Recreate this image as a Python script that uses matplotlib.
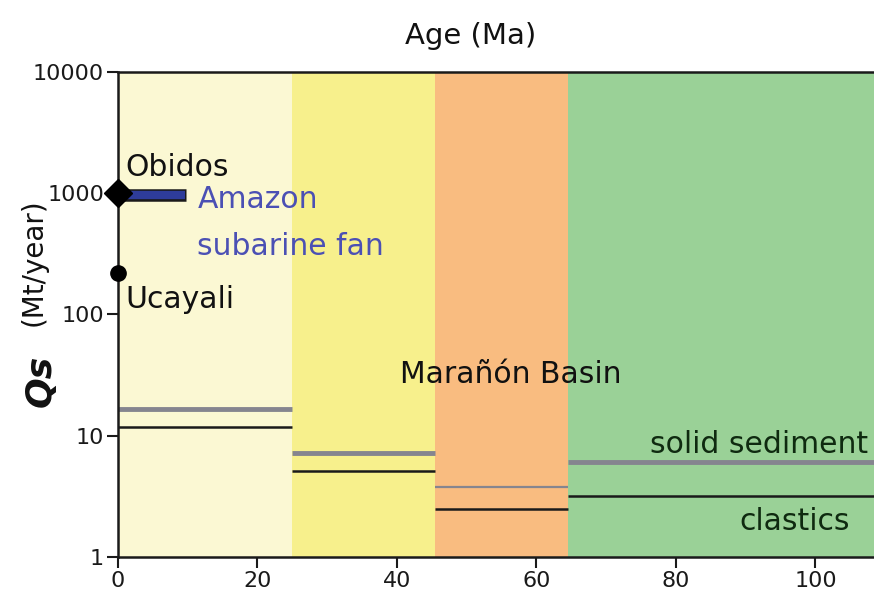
import numpy as np
import matplotlib
matplotlib.use("Agg")
import matplotlib.pyplot as plt

plt.rcParams['font.family'] = ['DejaVu Sans']

# age intervals (Ma) and background colours
band_edges = [0, 25, 45.5, 64.5, 110]
band_colors = ['#fbf8d3', '#f7f08c', '#f9bc80', '#9ad197']

# sediment flux per interval (Mt/year)
solid_sediment = [16.7, 7.2, 3.8, 6.1]
clastics = [11.8, 5.1, 2.5, 3.2]

# modern fluxes
obidos_qs = 1000
ucayali_qs = 218
fan_age = [0, 9.8]
fan_qs = 960

fig = plt.figure(figsize=(8.74, 6.02), dpi=100)
ax = fig.add_axes([0.135, 0.0748, 0.865, 0.806])

for i, c in enumerate(band_colors):
    ax.axvspan(band_edges[i], band_edges[i + 1], color=c, lw=0, zorder=0)

for i in range(len(solid_sediment)):
    x0, x1 = band_edges[i], band_edges[i + 1]
    lw_g = 1.6 if i == 2 else 3.5
    ax.plot([x0, x1], [solid_sediment[i]] * 2, color='#85858f', lw=lw_g,
            solid_capstyle='butt', zorder=2)
    ax.plot([x0, x1], [clastics[i]] * 2, color='#1a1a1a', lw=1.8,
            solid_capstyle='butt', zorder=2)

# Amazon submarine fan bar
ax.plot(fan_age, [fan_qs] * 2, color='#1a1a1a', lw=9, solid_capstyle='butt',
        zorder=3, clip_on=False)
ax.plot([fan_age[0] + 0.2, fan_age[1] - 0.2], [fan_qs] * 2, color='#2e3c9a',
        lw=6, solid_capstyle='butt', zorder=4, clip_on=False)
ax.plot([0], [obidos_qs], marker='D', ms=14, color='black', zorder=5, clip_on=False)
ax.plot([0], [ucayali_qs], marker='o', ms=11, color='black', zorder=5, clip_on=False)

ax.set_yscale('log')
ax.set_ylim(1, 10000)
ax.set_xlim(0, 108.4)
ax.set_yticks([1, 10, 100, 1000, 10000])
ax.set_yticklabels(['1', '10', '100', '1000', '10000'])
ax.yaxis.set_minor_locator(matplotlib.ticker.NullLocator())
ax.set_xticks([0, 20, 40, 60, 80, 100])
ax.tick_params(axis='both', labelsize=16, length=8, width=1.5, direction='out',
               colors='#1a1a1a', pad=2)
for s in ['left', 'bottom', 'top']:
    ax.spines[s].set_linewidth(1.8)
    ax.spines[s].set_color('#1a1a1a')
ax.spines['right'].set_visible(False)

fs = 21.5
ax.text(1.0, 1390, 'Obidos', fontsize=fs, va='baseline', ha='left', color='#111111')
ax.text(11.4, 755, 'Amazon', fontsize=fs, va='baseline', ha='left', color='#4b50b4')
ax.text(11.4, 309, 'subarine fan', fontsize=fs, va='baseline', ha='left', color='#4b50b4')
ax.text(1.0, 113, 'Ucayali', fontsize=fs, va='baseline', ha='left', color='#111111')
ax.text(40.4, 27.2, 'Marañón Basin', fontsize=fs, va='baseline', ha='left', color='#111111')
ax.text(107.6, 7.2, 'solid sediment', fontsize=fs, va='baseline', ha='right', color='#0f2a10')
ax.text(105.0, 1.67, 'clastics', fontsize=fs, va='baseline', ha='right', color='#0f2a10')

fig.text(0.538, 0.927, 'Age (Ma)', fontsize=21, ha='center', va='baseline', color='#111111')
fig.text(0.046, 0.367, 'Qs', fontsize=26, fontweight='bold', fontstyle='italic',
         rotation=90, ha='center', va='center', color='#111111')
fig.text(0.038, 0.565, '(Mt/year)', fontsize=20, rotation=90, ha='center',
         va='center', color='#111111')

fig.savefig('out.png', dpi=100)
